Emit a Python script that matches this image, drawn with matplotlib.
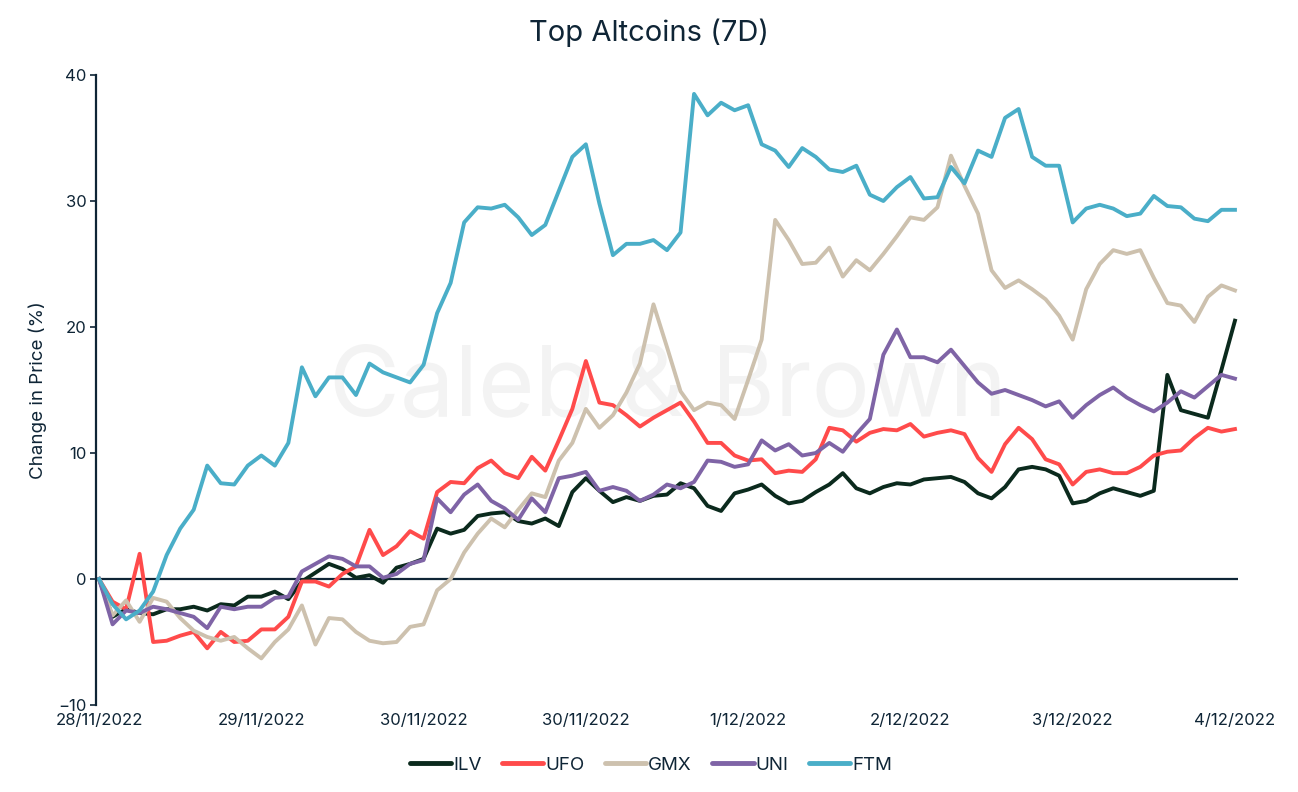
import matplotlib
matplotlib.use("Agg")
import matplotlib.pyplot as plt
import numpy as np

# 2-hourly samples over 7 days (28/11/2022 00:00 -> 4/12/2022 24:00)
hours = list(range(0, 170, 2))

ILV = [0.0, -3.0, -2.4, -2.7, -2.8, -2.4, -2.4, -2.2, -2.5, -2.0,
       -2.1, -1.4, -1.4, -1.0, -1.6, -0.2, 0.5, 1.2, 0.8, 0.1,
       0.3, -0.3, 0.9, 1.2, 1.6, 4.0, 3.6, 3.9, 5.0, 5.2,
       5.3, 4.6, 4.4, 4.8, 4.2, 6.9, 8.0, 7.0, 6.1, 6.5,
       6.2, 6.6, 6.7, 7.6, 7.2, 5.8, 5.4, 6.8, 7.1, 7.5,
       6.6, 6.0, 6.2, 6.9, 7.5, 8.4, 7.2, 6.8, 7.3, 7.6,
       7.5, 7.9, 8.0, 8.1, 7.7, 6.8, 6.4, 7.3, 8.7, 8.9,
       8.7, 8.2, 6.0, 6.2, 6.8, 7.2, 6.9, 6.6, 7.0, 16.2,
       13.4, 13.1, 12.8, 16.6, 20.5]

UFO = [0.0, -1.8, -2.4, 2.0, -5.0, -4.9, -4.5, -4.2, -5.5, -4.2,
       -5.0, -4.9, -4.0, -4.0, -3.0, -0.2, -0.2, -0.6, 0.4, 1.0,
       3.9, 1.9, 2.6, 3.8, 3.2, 6.9, 7.7, 7.6, 8.8, 9.4,
       8.4, 8.0, 9.7, 8.6, 11.0, 13.5, 17.3, 14.0, 13.8, 13.0,
       12.1, 12.8, 13.4, 14.0, 12.5, 10.8, 10.8, 9.8, 9.4, 9.5,
       8.4, 8.6, 8.5, 9.5, 12.0, 11.8, 10.9, 11.6, 11.9, 11.8,
       12.3, 11.3, 11.6, 11.8, 11.5, 9.6, 8.5, 10.7, 12.0, 11.1,
       9.5, 9.1, 7.5, 8.5, 8.7, 8.4, 8.4, 8.9, 9.8, 10.1,
       10.2, 11.2, 12.0, 11.7, 11.9]

GMX = [0.0, -2.9, -1.7, -3.4, -1.5, -1.8, -3.1, -4.1, -4.6, -4.9,
       -4.6, -5.5, -6.3, -5.0, -4.0, -2.1, -5.2, -3.1, -3.2, -4.2,
       -4.9, -5.1, -5.0, -3.8, -3.6, -0.9, 0.0, 2.1, 3.6, 4.8,
       4.1, 5.5, 6.8, 6.5, 9.4, 10.8, 13.5, 12.0, 13.0, 14.8,
       17.1, 21.8, 18.4, 14.9, 13.4, 14.0, 13.8, 12.7, 15.8, 19.0,
       28.5, 26.9, 25.0, 25.1, 26.3, 24.0, 25.3, 24.5, 25.8, 27.2,
       28.7, 28.5, 29.5, 33.6, 31.2, 29.0, 24.5, 23.1, 23.7, 23.0,
       22.2, 20.9, 19.0, 23.0, 25.0, 26.1, 25.8, 26.1, 23.9, 21.9,
       21.7, 20.4, 22.4, 23.3, 22.9]

UNI = [0.0, -3.6, -2.5, -2.7, -2.2, -2.4, -2.7, -3.0, -3.9, -2.2,
       -2.4, -2.2, -2.2, -1.5, -1.4, 0.6, 1.2, 1.8, 1.6, 1.0,
       1.0, 0.1, 0.4, 1.2, 1.5, 6.4, 5.3, 6.7, 7.5, 6.2,
       5.6, 4.7, 6.4, 5.3, 8.0, 8.2, 8.5, 7.0, 7.3, 7.0,
       6.2, 6.7, 7.5, 7.2, 7.7, 9.4, 9.3, 8.9, 9.1, 11.0,
       10.2, 10.7, 9.8, 10.0, 10.8, 10.1, 11.5, 12.7, 17.8, 19.8,
       17.6, 17.6, 17.2, 18.2, 16.9, 15.6, 14.7, 15.0, 14.6, 14.2,
       13.7, 14.1, 12.8, 13.8, 14.6, 15.2, 14.4, 13.8, 13.3, 14.0,
       14.9, 14.4, 15.3, 16.2, 15.9]

FTM = [0.0, -2.0, -3.2, -2.5, -1.0, 1.9, 4.0, 5.5, 9.0, 7.6,
       7.5, 9.0, 9.8, 9.0, 10.8, 16.8, 14.5, 16.0, 16.0, 14.6,
       17.1, 16.4, 16.0, 15.6, 17.0, 21.1, 23.5, 28.3, 29.5, 29.4,
       29.7, 28.7, 27.3, 28.1, 30.8, 33.5, 34.5, 29.8, 25.7, 26.6,
       26.6, 26.9, 26.1, 27.5, 38.5, 36.8, 37.8, 37.2, 37.6, 34.5,
       34.0, 32.7, 34.2, 33.5, 32.5, 32.3, 32.8, 30.5, 30.0, 31.1,
       31.9, 30.2, 30.3, 32.7, 31.4, 34.0, 33.5, 36.6, 37.3, 33.5,
       32.8, 32.8, 28.3, 29.4, 29.7, 29.4, 28.8, 29.0, 30.4, 29.6,
       29.5, 28.6, 28.4, 29.3, 29.3]

series_names = ["ILV", "UFO", "GMX", "UNI", "FTM"]
series_values = [ILV, UFO, GMX, UNI, FTM]
colors = ["#0b2a1d", "#ff4b4b", "#cdc1ae", "#7f64a6", "#4aaec8"]

tick_hours = [0, 24, 48, 72, 96, 120, 144, 168]
tick_labels = ["28/11/2022", "29/11/2022", "30/11/2022", "30/11/2022",
               "1/12/2022", "2/12/2022", "3/12/2022", "4/12/2022"]

NAVY = "#0f2536"
plt.rcParams['font.family'] = ['Inter', 'DejaVu Sans']

fig = plt.figure(figsize=(12.98, 7.92), dpi=100)
ax = fig.add_axes([96 / 1298, 1 - 705 / 792, 1142 / 1298, 630 / 792])

ax.text((668 - 96) / 1142, 0.50, "Caleb & Brown", transform=ax.transAxes,
        ha="center", va="center", fontsize=70, color="#f3f3f3", zorder=0)

ax.axhline(0, color=NAVY, lw=1.6, zorder=1)

for name, vals, c in zip(series_names, series_values, colors):
    ax.plot(hours, vals, color=c, lw=2.8, label=name, zorder=2)

ax.set_xlim(-0.45, 168.45)
ax.set_ylim(-10, 40)
ax.set_yticks([-10, 0, 10, 20, 30, 40])
ax.set_xticks(tick_hours)
ax.set_xticklabels(tick_labels)

for s in ["top", "right", "bottom"]:
    ax.spines[s].set_visible(False)
ax.spines["left"].set_color(NAVY)
ax.spines["left"].set_linewidth(1.6)
ax.tick_params(axis="y", colors=NAVY, labelsize=12, length=4, width=1.2,
               labelcolor=NAVY, pad=3)
ax.tick_params(axis="x", length=0, labelsize=12, labelcolor=NAVY, pad=6)

ax.set_ylabel("Change in Price (%)", fontsize=13.5, color=NAVY, labelpad=8)
fig.text(0.5, 1 - 33 / 792, "Top Altcoins (7D)", ha="center", va="center",
         fontsize=21, color=NAVY)

leg = ax.legend(loc="upper center", bbox_to_anchor=(0.486, -0.055), ncol=5,
                frameon=False, fontsize=13.5, handlelength=2.2,
                handletextpad=0.1, columnspacing=1.1)
for line in leg.get_lines():
    line.set_linewidth(3.5)
    line.set_solid_capstyle("round")
for t in leg.get_texts():
    t.set_color(NAVY)

fig.savefig("out.png", dpi=100, facecolor="white")
